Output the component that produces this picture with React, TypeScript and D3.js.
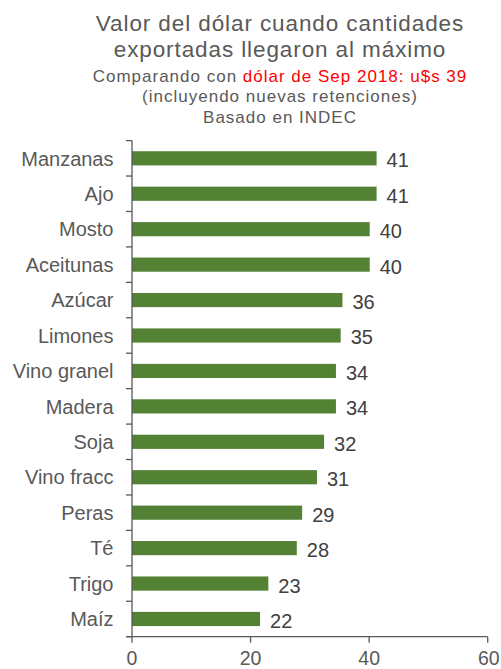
import React from "react";
import * as d3 from "d3";

const categories = ["Manzanas", "Ajo", "Mosto", "Aceitunas", "Azúcar", "Limones", "Vino granel", "Madera", "Soja", "Vino fracc", "Peras", "Té", "Trigo", "Maíz"];
const values = [41.26, 41.26, 40.1, 40.1, 35.5, 35.2, 34.4, 34.4, 32.4, 31.2, 28.7, 27.8, 23.0, 21.6];
const valueLabels = ["41", "41", "40", "40", "36", "35", "34", "34", "32", "31", "29", "28", "23", "22"];
const xTicks = [0, 20, 40, 60];
const titleLines = ["Valor del dólar cuando cantidades", "exportadas llegaron al máximo"];
const subtitlePrefix = "Comparando con ";
const subtitleHighlight = "dólar de Sep 2018: u$s 39";
const subtitleLines = ["(incluyendo nuevas retenciones)", "Basado en INDEC"];

const W = 501;
const H = 669;
const FONT = "'Liberation Sans', Arial, sans-serif";
const GRAY = "#595959";
const DARK = "#404040";
const AXIS = "#595959";
const BAR = "#548235";

export default function App() {
  const x = d3.scaleLinear().domain([0, 60]).range([132, 487.7]);
  const y = d3.scaleBand<string>().domain(categories).range([140.6, 636.7]).paddingInner(0.6).paddingOuter(0.3);
  const step = y.step();
  const bw = y.bandwidth();
  const boundaries = categories.map((c) => (y(c) as number) + bw / 2 - step / 2);
  boundaries.push((y(categories[categories.length - 1]) as number) + bw / 2 + step / 2);
  const x0 = x(0);
  const yBottom = 636.7;
  const cx = 280;

  return (
    <svg width={W} height={H} style={{ position: "absolute", left: 0, top: 0, display: "block", background: "#fff" }} fontFamily={FONT}>
      <rect x={0} y={0} width={W} height={H} fill="#fff" />
      <g textAnchor="middle" fill={GRAY}>
        <text x={cx} y={30.7} fontSize={22.5} letterSpacing={0.9}>{titleLines[0]}</text>
        <text x={cx} y={57.3} fontSize={22.5} letterSpacing={0.9}>{titleLines[1]}</text>
        <text x={cx} y={81.7} fontSize={17} letterSpacing={1}>
          {subtitlePrefix}
          <tspan fill="#FF0000">{subtitleHighlight}</tspan>
        </text>
        <text x={cx} y={101.7} fontSize={17} letterSpacing={1}>{subtitleLines[0]}</text>
        <text x={cx} y={123.3} fontSize={17} letterSpacing={1}>{subtitleLines[1]}</text>
      </g>
      {categories.map((c, i) => (
        <rect key={c} x={x0} y={y(c)} width={x(values[i]) - x0} height={bw} fill={BAR} />
      ))}
      {categories.map((c, i) => (
        <text key={"l" + c} x={113.5} y={(y(c) as number) + bw / 2} dy="0.36em" textAnchor="end" fontSize={20} fill={GRAY}>
          {c}
        </text>
      ))}
      {categories.map((c, i) => (
        <text key={"v" + c} x={x(values[i]) + 10} y={(y(c) as number) + bw / 2} dy="0.45em" textAnchor="start" fontSize={20} fill={DARK}>
          {valueLabels[i]}
        </text>
      ))}
      <line x1={x0} x2={x0} y1={boundaries[0]} y2={yBottom} stroke={AXIS} strokeWidth={1.3} />
      {boundaries.map((b, i) => (
        <line key={"t" + i} x1={x0 - 6} x2={x0} y1={b} y2={b} stroke={AXIS} strokeWidth={1.3} />
      ))}
      <line x1={x0 - 6} x2={x(60)} y1={yBottom} y2={yBottom} stroke={AXIS} strokeWidth={1.3} />
      {xTicks.map((t) => (
        <g key={"x" + t}>
          <line x1={x(t)} x2={x(t)} y1={yBottom} y2={yBottom + 6} stroke={AXIS} strokeWidth={1.3} />
          <text x={x(t)} y={664.5} textAnchor={t === 60 ? "end" : "middle"} dx={t === 60 ? 12 : 0} fontSize={19.5} fill={GRAY}>{t}</text>
        </g>
      ))}
    </svg>
  );
}
